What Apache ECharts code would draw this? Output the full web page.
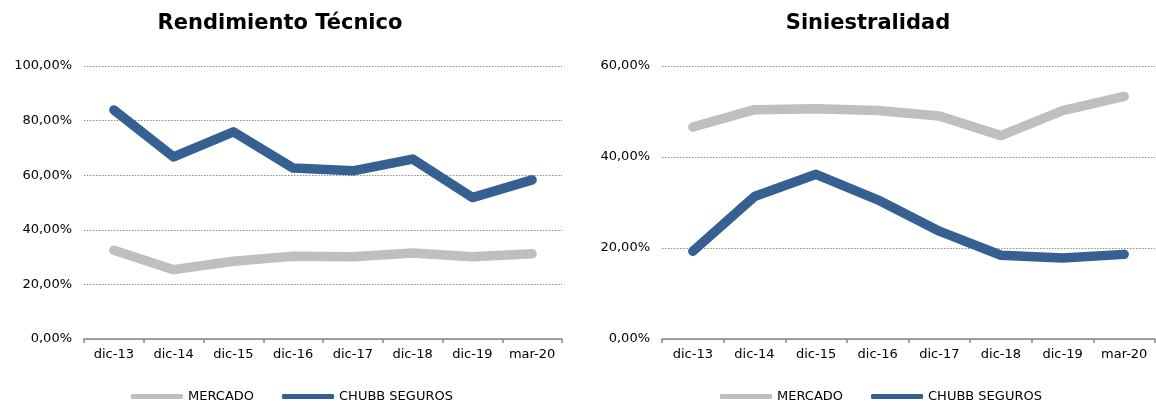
<!DOCTYPE html>
<html><head><meta charset="utf-8">
<script src="https://cdn.jsdelivr.net/npm/echarts@6/dist/echarts.min.js"></script>
<style>html,body{margin:0;padding:0;background:#fff}#c{width:1156px;height:401px}</style>
</head><body><div id="c"></div>
<script>
const categories = ['dic-13','dic-14','dic-15','dic-16','dic-17','dic-18','dic-19','mar-20'];
const rendMercado = [32.5, 25.4, 28.5, 30.3, 30.1, 31.5, 30.1, 31.2];
const rendChubb = [83.9, 66.7, 75.9, 62.6, 61.6, 65.9, 51.8, 58.3];
const sinMercado = [46.6, 50.4, 50.6, 50.2, 49.0, 44.7, 50.2, 53.3];
const sinChubb = [19.3, 31.3, 36.2, 30.6, 23.7, 18.4, 17.8, 18.6];
const titles = ['Rendimiento Técnico', 'Siniestralidad'];
const seriesNames = ['MERCADO', 'CHUBB SEGUROS'];

const font = 'Verdana, "DejaVu Sans", sans-serif';
const gray = '#bfbfbf', blue = '#376092';
const fmt = v => v.toFixed(2).replace('.', ',') + '%';

const chart = echarts.init(document.getElementById('c'));
function xAxis(i){
  return {type:'category', gridIndex:i, data:categories, boundaryGap:true,
    axisLine:{lineStyle:{color:'#868686', width:1.5}},
    axisTick:{show:true, length:4, lineStyle:{color:'#868686', width:1.5}},
    axisLabel:{color:'#000', fontFamily:font, fontSize:13, margin:9, interval:0}};
}
function yAxis(i, max){
  return {type:'value', gridIndex:i, min:0, max:max, interval:20,
    axisLine:{show:false}, axisTick:{show:false},
    splitLine:{lineStyle:{color:'#8c8c8c', type:[1.5,1.5], width:1.2}},
    axisLabel:{color:'#000', fontFamily:font, fontSize:13, margin:12, formatter:fmt}};
}
function line(name, data, color, i){
  return {type:'line', name:name, data:data, xAxisIndex:i, yAxisIndex:i,
    symbol:'none', smooth:false, color:color,
    lineStyle:{width:9.5, color:color, cap:'round', join:'round'}};
}
const legendText = {fontFamily:font, fontSize:13, color:'#000', padding:[0,0,0,0]};
chart.setOption({
  animation:false,
  title:[
    {text:titles[0], left:275, top:8, textAlign:'center', textStyle:{fontFamily:font, fontSize:21, fontWeight:'bold', color:'#000'}},
    {text:titles[1], left:863, top:8, textAlign:'center', textStyle:{fontFamily:font, fontSize:21, fontWeight:'bold', color:'#000'}}
  ],
  grid:[
    {left:84, top:66, width:478, height:273},
    {left:662, top:66, width:493, height:273}
  ],
  xAxis:[xAxis(0), xAxis(1)],
  yAxis:[yAxis(0,100), yAxis(1,60)],
  legend:[
    {left:126, top:385, itemWidth:52, itemHeight:5, itemGap:28, icon:'roundRect',
     textStyle:legendText, data:seriesNames},
    {left:715, top:385, itemWidth:52, itemHeight:5, itemGap:28, icon:'roundRect',
     textStyle:legendText, data:seriesNames}
  ],
  series:[
    line(seriesNames[0], rendMercado, gray, 0),
    line(seriesNames[1], rendChubb, blue, 0),
    line(seriesNames[0], sinMercado, gray, 1),
    line(seriesNames[1], sinChubb, blue, 1)
  ]
});
</script></body></html>
